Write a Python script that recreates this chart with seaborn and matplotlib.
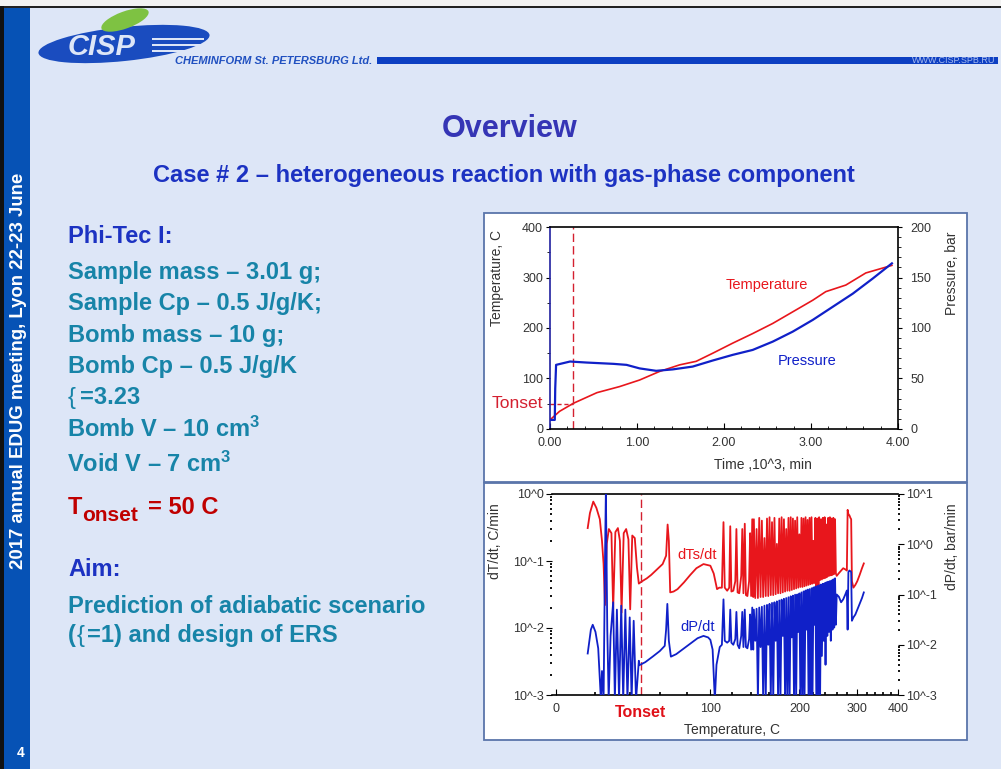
import matplotlib
matplotlib.use('Agg')
import matplotlib.pyplot as plt
import seaborn as sns
import numpy as np
from matplotlib.patches import Rectangle, Ellipse
from matplotlib.ticker import MultipleLocator, LogLocator, NullFormatter

# ---- top chart: Phi-Tec I run, temperature / pressure vs time (10^3 min)
time_temp = [0.00, 0.11, 0.27, 0.54, 0.80, 1.03, 1.26, 1.49, 1.68, 1.87, 2.10,
             2.33, 2.56, 2.79, 3.02, 3.17, 3.40, 3.63, 3.93]
temp_c = [18, 35, 51, 72, 84, 97, 114, 127, 134, 150, 170, 189, 209, 232, 255,
          272, 285, 309, 324]
time_pres = [0.00, 0.055, 0.06, 0.07, 0.23, 0.42, 0.73, 0.88, 1.03, 1.22, 1.41,
             1.64, 1.87, 2.10, 2.33, 2.56, 2.79, 3.02, 3.25, 3.48, 3.71, 3.93]
pres_bar = [9, 9, 40, 63.5, 66.8, 65.8, 64.5, 63.5, 60, 57.6, 59, 61.8, 67.8,
            73.4, 78.3, 86.5, 96.4, 108, 121, 134, 149, 164]
tonset_time = 0.268
tonset_temp = 50

# ---- bottom chart: rates vs temperature (C)
red_head_T = [15.8, 17.0, 18.8, 20.5, 22.4, 23.6, 24.5, 25.3, 26.3, 27.5, 29.0, 30.0,
              31.3, 32.8, 34.0, 35.0, 36.3, 37.8, 39.2, 40.3, 41.6, 43.2, 44.6, 45.8,
              48, 51, 54, 58, 62, 64.5, 65.6, 66.5, 67.5, 70, 73, 78, 83, 88, 94, 100,
              103, 106,
              108, 110.5, 112, 113.2, 115.5, 117.5, 118.5, 119.6, 121.5, 123.5, 124.6,
              125.8, 127.5, 129.5, 130.6, 131.8, 133.2, 134.4, 136, 137.8, 138.9, 140,
              141.2, 142.3]
red_head_rate = [0.31, 0.52, 0.77, 0.62, 0.42, 0.20, 0.09, 0.022, 0.18, 0.30, 0.26, 0.019,
                 0.27, 0.31, 0.20, 0.017, 0.26, 0.30, 0.21, 0.019, 0.24, 0.22, 0.08, 0.046,
                 0.05, 0.055, 0.062, 0.075, 0.09, 0.12, 0.35, 0.2, 0.034, 0.035, 0.038,
                 0.048, 0.062, 0.078, 0.09, 0.085, 0.065, 0.038,
                 0.04, 0.04, 0.38, 0.04, 0.036, 0.04, 0.33, 0.035, 0.036, 0.05, 0.30,
                 0.034, 0.033, 0.06, 0.30, 0.033, 0.36, 0.031, 0.03, 0.05, 0.26, 0.03,
                 0.42, 0.029]
blue_head_T = [15.8, 17.5, 18.5, 20, 21.5, 23, 23.6, 24.5, 25.3, 25.8, 26.6, 27.4, 28.5,
               30, 31, 32.2, 33.5, 34.8, 36, 37.3, 38.6, 40, 41.2, 42.5, 44, 45.8,
               46, 50, 55, 60, 63.5, 64.5, 65.4, 66.5, 68, 72, 78, 84, 89, 94, 98, 100,
               102, 104, 105.5, 108.5,
               110.5, 112, 113.2, 115.5, 117.5, 118.5, 119.6, 121.5, 123.5, 124.6,
               125.8, 127.5, 129.5, 130.6, 131.8, 133.2, 134.4, 136, 137.8, 138.9, 140,
               141.2, 142.3]
blue_head_rate = [0.0067, 0.02, 0.025, 0.018, 0.0085, 0.0008, 0.003, 0.0008, 0.5, 12,
                  0.02, 0.0008, 0.015, 0.07, 0.0008, 0.05, 0.0008, 0.06, 0.0008, 0.05,
                  0.0008, 0.035, 0.0008, 0.03, 0.0008, 0.0048,
                  0.0039, 0.0045, 0.0058, 0.0075, 0.0095, 0.02, 0.065, 0.012, 0.0058,
                  0.0065, 0.0085, 0.011, 0.0135, 0.015, 0.014, 0.0125, 0.008, 0.0008,
                  0.004, 0.009,
                  0.01, 0.08, 0.012, 0.011, 0.012, 0.05, 0.011, 0.01, 0.013, 0.045, 0.01,
                  0.0085, 0.015, 0.045, 0.009, 0.05, 0.009, 0.0085, 0.013, 0.04, 0.008,
                  0.055, 0.008]
# oscillating region 143-258 C
spike_T = [143.0, 144.5, 146.0, 147.5, 149.0, 150.5, 152.0, 153.5, 155.0, 156.5, 158.0,
           159.5, 161.0, 162.5, 164.0, 165.5, 167.0, 168.5, 170.0, 171.5, 173.0, 174.5,
           176.0, 177.5, 179.0, 180.5, 182.0, 183.5, 185.0, 186.5, 188.0, 189.5, 191.0,
           192.5, 194.0, 195.5, 197.0, 198.5, 200.0, 201.5, 203.0, 204.5, 206.0, 207.5,
           209.0, 210.5, 212.0, 213.5, 215.0, 216.5, 218.0, 219.5, 221.0, 222.5, 224.0,
           225.5, 227.0, 228.5, 230.0, 231.5, 233.0, 234.5, 236.0, 237.5, 239.0, 240.5,
           242.0, 243.5, 245.0, 246.5, 248.0, 249.5, 251.0, 252.5, 254.0, 255.5, 257.0,
           258.5]
red_spike_rate = [0.42, 0.028, 0.30, 0.028, 0.44, 0.029, 0.40, 0.029, 0.22, 0.030,
                  0.43, 0.030, 0.45, 0.031, 0.38, 0.031, 0.44, 0.032, 0.18, 0.033,
                  0.43, 0.033, 0.45, 0.034, 0.42, 0.035, 0.30, 0.036, 0.44, 0.036,
                  0.45, 0.037, 0.43, 0.038, 0.40, 0.039, 0.45, 0.040, 0.25, 0.041,
                  0.44, 0.041, 0.43, 0.042, 0.45, 0.043, 0.41, 0.044, 0.44, 0.045,
                  0.45, 0.046, 0.20, 0.047, 0.44, 0.006, 0.43, 0.0009, 0.45, 0.052,
                  0.42, 0.053, 0.44, 0.055, 0.45, 0.056, 0.35, 0.058, 0.44, 0.060,
                  0.45, 0.061, 0.43, 0.062, 0.44, 0.064, 0.42, 0.065]
blue_spike_rate = [0.05, 0.012, 0.052, 0.0008, 0.055, 0.009, 0.057, 0.0008, 0.06, 0.0008,
                   0.062, 0.01, 0.065, 0.0008, 0.068, 0.0008, 0.07, 0.012, 0.073, 0.0008,
                   0.076, 0.0008, 0.079, 0.015, 0.082, 0.0008, 0.085, 0.0008, 0.088, 0.0008,
                   0.092, 0.014, 0.095, 0.0008, 0.099, 0.0008, 0.10, 0.018, 0.105, 0.0008,
                   0.11, 0.0008, 0.115, 0.0008, 0.12, 0.02, 0.125, 0.0008, 0.128, 0.0008,
                   0.133, 0.0008, 0.138, 0.025, 0.143, 0.0008, 0.148, 0.0008, 0.153, 0.0008,
                   0.158, 0.006, 0.163, 0.012, 0.168, 0.004, 0.175, 0.015, 0.18, 0.018,
                   0.185, 0.012, 0.19, 0.02, 0.2, 0.022, 0.21, 0.025]
tail_T = [260, 264, 268, 272, 276, 279, 280.5, 282, 284, 286, 287.5, 289, 292, 296,
          300, 305, 310, 314]
red_tail_rate = [0.06, 0.066, 0.072, 0.078, 0.075, 0.072, 0.58, 0.5, 0.48, 0.44, 0.42,
                 0.05, 0.04, 0.044, 0.05, 0.062, 0.078, 0.092]
blue_tail_rate = [0.1, 0.09, 0.07, 0.08, 0.1, 0.12, 0.02, 0.28, 0.3, 0.29, 0.28, 0.03,
                  0.035, 0.04, 0.05, 0.065, 0.085, 0.11]
onset_T = 47

red_T = red_head_T + spike_T + tail_T
red_rate = red_head_rate + red_spike_rate + red_tail_rate
blue_T = blue_head_T + spike_T + tail_T
blue_rate = blue_head_rate + blue_spike_rate + blue_tail_rate

W, H = 1001, 769
BG = '#dde6f7'
RED = '#e8161c'
BLUE = '#1020c8'
TEAL = '#1784a8'
NAVY = '#1c32c2'
GREY = '#333333'

plt.rcParams['font.family'] = ['Liberation Sans', 'DejaVu Sans']
plt.rcParams['mathtext.fontset'] = 'custom'
plt.rcParams['mathtext.rm'] = 'Liberation Sans:bold'
plt.rcParams['mathtext.it'] = 'Liberation Sans:bold'
plt.rcParams['mathtext.bf'] = 'Liberation Sans:bold'


def box(x0, y0, x1, y1):
    return [x0 / W, 1 - y1 / H, (x1 - x0) / W, (y1 - y0) / H]


fig = plt.figure(figsize=(W / 100, H / 100), dpi=100, facecolor=BG)
deco = fig.add_axes([0, 0, 1, 1], zorder=0)
deco.set_xlim(0, W)
deco.set_ylim(H, 0)
deco.axis('off')

# slide frame and side band
deco.add_patch(Rectangle((0, 0), W, 6, fc='#f2f2f2', ec='none'))
deco.add_patch(Rectangle((0, 6), W, 2, fc='#222222', ec='none'))
deco.add_patch(Rectangle((0, 6), 4, H, fc='#111111', ec='none'))
deco.add_patch(Rectangle((4, 8), 26, H, fc='#0652b5', ec='none'))
deco.text(19, 371, '2017 annual EDUG meeting, Lyon 22-23 June', rotation=90,
          ha='center', va='center', fontsize=13.4, fontweight='bold', color='white')
deco.text(21, 753, '4', ha='center', va='center', fontsize=10, fontweight='bold',
          color='white')

# logo + header line
deco.add_patch(Ellipse((124, 44), 172, 34, angle=-6, fc='#1a4cbf', ec='none'))
deco.add_patch(Ellipse((125, 20), 50, 17, angle=-20, fc='#7ec242', ec='none'))
deco.text(102, 47, 'CISP', fontsize=21, fontweight='bold', fontstyle='italic',
          color=BG, ha='center', va='center')
for yy in (38, 44, 50):
    deco.add_patch(Rectangle((152, yy), 52, 2.2, fc=BG, ec='none'))
deco.text(175, 60.5, 'CHEMINFORM St. PETERSBURG Ltd.', fontsize=8, fontweight='bold',
          fontstyle='italic', color='#2050c0', ha='left', va='center')
deco.add_patch(Rectangle((377, 56.5), 621, 7, fc='#0d3fc2', ec='none'))
deco.text(995, 60.5, 'WWW.CISP.SPB.RU', fontsize=6.5, color='#a9bdf0', ha='right',
          va='center')

# titles
deco.text(510, 136.7, 'Overview', ha='center', va='baseline', fontsize=22,
          fontweight='bold', color='#3535b5')
deco.text(153, 181.7, 'Case # 2 – heterogeneous reaction with gas-phase component',
          ha='left', va='baseline', fontsize=17, fontweight='bold', color=NAVY)

# left text column
tx = 68
kw = dict(ha='left', va='baseline', fontsize=17, fontweight='bold')
deco.text(tx, 242.7, 'Phi-Tec I:', color=NAVY, **kw)
deco.text(tx, 279.3, 'Sample mass – 3.01 g;', color=TEAL, **kw)
deco.text(tx, 310.0, 'Sample Cp – 0.5 J/g/K;', color=TEAL, **kw)
deco.text(tx, 341.7, 'Bomb mass – 10 g;', color=TEAL, **kw)
deco.text(tx, 373.3, 'Bomb Cp – 0.5 J/g/K', color=TEAL, **kw)
deco.text(tx, 404.3, '{', color=TEAL, ha='left', va='baseline', fontsize=17)
deco.text(80, 404.3, '=3.23', color=TEAL, **kw)
deco.text(tx - 1, 436.7, 'Bomb V – 10 cm$^3$', color=TEAL, **kw)
deco.text(tx - 1, 472.3, 'Void V – 7 cm$^3$', color=TEAL, **kw)
deco.text(tx, 514, 'T', color='#c00000', **kw)
deco.text(82, 521, 'onset', color='#c00000', ha='left', va='baseline', fontsize=15,
          fontweight='bold')
deco.text(148, 514, '= 50 C', color='#c00000', **kw)
deco.text(tx, 576, 'Aim:', color=NAVY, **kw)
deco.text(tx, 612.7, 'Prediction of adiabatic scenario', color=TEAL, **kw)
deco.text(tx, 641.7, '(', color=TEAL, **kw)
deco.text(77, 641.7, '{', color=TEAL, ha='left', va='baseline', fontsize=17)
deco.text(87, 641.7, '=1) and design of ERS', color=TEAL, **kw)

# chart frames
deco.add_patch(Rectangle((484, 213), 483, 269, fc='white', ec='#5a75aa', lw=1.3))
deco.add_patch(Rectangle((484, 483), 483, 257, fc='white', ec='#5a75aa', lw=1.3))

tick_kw = dict(labelsize=9, labelcolor=GREY)

# ---------------- top chart
ax1 = fig.add_axes(box(550, 227, 898, 429), zorder=2)
ax1.set_facecolor('none')
sns.lineplot(x=time_temp, y=temp_c, ax=ax1, color=RED, lw=1.2, sort=False,
             estimator=None, legend=False)
ax1.set_xlim(0, 4)
ax1.set_ylim(0, 400)
ax1.axvline(tonset_time, color='#d42030', lw=1, dashes=(6, 3))
ax1.plot([0, tonset_time], [tonset_temp, tonset_temp], color='#d42030', lw=1,
         dashes=(3, 2), clip_on=False)
ax1.text(-0.02, tonset_temp, 'Tonset', transform=ax1.get_yaxis_transform(),
         ha='right', va='center', color='#d42030', fontsize=12.5)
ax1.text(2.49, 285, 'Temperature', color=RED, fontsize=10.5, ha='center', va='center')
ax1.text(2.95, 135, 'Pressure', color=BLUE, fontsize=10.5, ha='center', va='center')

ax1.set_xticks([0, 1, 2, 3, 4])
ax1.set_xticklabels(['0.00', '1.00', '2.00', '3.00', '4.00'])
ax1.xaxis.set_minor_locator(MultipleLocator(0.2))
ax1.set_yticks([0, 100, 200, 300, 400])
ax1.yaxis.set_minor_locator(MultipleLocator(50))
ax1.tick_params(axis='x', which='major', direction='in', length=4, pad=6, **tick_kw)
ax1.tick_params(axis='x', which='minor', direction='in', length=2.5)
ax1.tick_params(axis='y', which='major', direction='out', length=3, pad=2, **tick_kw)
ax1.tick_params(axis='y', which='minor', direction='out', length=2)
ax1.set_xlabel('Time ,10^3, min', fontsize=10, color=GREY, va='center')
ax1.xaxis.set_label_coords(0.612, -0.178)
ax1.set_ylabel('Temperature, C', fontsize=10, color=GREY, va='center')
ax1.yaxis.set_label_coords(-0.152, 0.748)
for s in ax1.spines.values():
    s.set_color('black')
    s.set_linewidth(1.2)
ax1.spines['left'].set_color('#2020a0')
ax1.spines['right'].set_visible(False)

ax1b = ax1.twinx()
ax1b.set_zorder(3)
ax1b.patch.set_visible(False)
sns.lineplot(x=time_pres, y=pres_bar, ax=ax1b, color=BLUE, lw=1.6, sort=False,
             estimator=None, legend=False)
ax1b.set_ylim(0, 200)
ax1b.set_yticks([0, 50, 100, 150, 200])
ax1b.yaxis.set_minor_locator(MultipleLocator(10))
ax1b.tick_params(axis='y', which='major', direction='out', length=3, pad=6, **tick_kw)
ax1b.tick_params(axis='y', which='minor', direction='out', length=2)
ax1b.set_ylabel('Pressure, bar', fontsize=10, color=GREY, va='center')
ax1b.yaxis.set_label_coords(1.155, 0.772)
for name in ['top', 'bottom', 'left']:
    ax1b.spines[name].set_visible(False)
ax1b.spines['right'].set_color('black')
ax1b.spines['right'].set_linewidth(1.2)

# ---------------- bottom chart
def arrh_fwd(t):
    return -1000.0 / (np.asarray(t, dtype=float) + 273.15)


def arrh_inv(u):
    return -1000.0 / np.asarray(u, dtype=float) - 273.15


ax2 = fig.add_axes(box(552, 494, 898, 695), zorder=2)
ax2.set_facecolor('none')
sns.lineplot(x=red_T, y=red_rate, ax=ax2, color=RED, lw=1.3, sort=False,
             estimator=None, legend=False)
ax2b = ax2.twinx()
ax2b.set_zorder(3)
ax2b.patch.set_visible(False)
sns.lineplot(x=blue_T, y=blue_rate, ax=ax2b, color=BLUE, lw=1.3, sort=False,
             estimator=None, legend=False)

ax2.set_xscale('function', functions=(arrh_fwd, arrh_inv))
ax2.set_yscale('log')
ax2b.set_yscale('log')
ax2.set_xlim(-2, 400)
ax2.set_ylim(1e-3, 1)
ax2b.set_ylim(1e-3, 10)

ax2.axvline(onset_T, color='#d42030', lw=1, dashes=(6, 3))
ax2.text(onset_T, -0.085, 'Tonset', transform=ax2.get_xaxis_transform(), ha='center',
         va='center', color='#e01018', fontsize=11.5, fontweight='bold')
ax2.text(88.7, 0.123, 'dTs/dt', color=RED, fontsize=10.5, ha='center', va='center')
ax2.text(88.7, 0.0102, 'dP/dt', color=BLUE, fontsize=10.5, ha='center', va='center')

ax2.set_xticks([0, 100, 200, 300, 400])
ax2.set_xticklabels(['0', '100', '200', '300', '400'])
ax2.xaxis.set_minor_locator(MultipleLocator(20))
ax2.xaxis.set_minor_formatter(NullFormatter())
ax2.set_yticks([1e-3, 1e-2, 1e-1, 1])
ax2.set_yticklabels(['10^-3', '10^-2', '10^-1', '10^0'])
ax2.yaxis.set_minor_locator(LogLocator(base=10, subs=range(2, 10)))
ax2.yaxis.set_minor_formatter(NullFormatter())
ax2b.set_yticks([1e-3, 1e-2, 1e-1, 1, 10])
ax2b.set_yticklabels(['10^-3', '10^-2', '10^-1', '10^0', '10^1'])
ax2b.yaxis.set_minor_locator(LogLocator(base=10, subs=range(2, 10)))
ax2b.yaxis.set_minor_formatter(NullFormatter())

ax2.tick_params(axis='x', which='major', direction='in', length=4, pad=6, **tick_kw)
ax2.tick_params(axis='x', which='minor', direction='in', length=2, width=1.2)
ax2.tick_params(axis='y', which='major', direction='out', length=4, pad=2, **tick_kw)
ax2.tick_params(axis='y', which='minor', direction='out', length=1.5, width=1.3)
ax2b.tick_params(axis='y', which='major', direction='out', length=4, pad=2, **tick_kw)
ax2b.tick_params(axis='y', which='minor', direction='out', length=1.5, width=1.3)

ax2.set_xlabel('Temperature, C', fontsize=10, color=GREY, va='center')
ax2.xaxis.set_label_coords(0.519, -0.174)
ax2.set_ylabel('dT/dt, C/min', fontsize=10, color=GREY, va='center')
ax2.yaxis.set_label_coords(-0.165, 0.766)
ax2b.set_ylabel('dP/dt, bar/min', fontsize=10, color=GREY, va='center')
ax2b.yaxis.set_label_coords(1.156, 0.736)

for name in ['left', 'right']:
    ax2.spines[name].set_visible(False)
for name in ['top', 'bottom']:
    ax2.spines[name].set_color('black')
    ax2.spines[name].set_linewidth(1.2)
for s in ax2b.spines.values():
    s.set_visible(False)

fig.savefig('out.png', dpi=100, facecolor=BG)
